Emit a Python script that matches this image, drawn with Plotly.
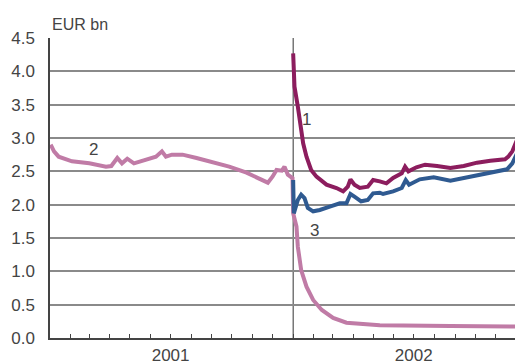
import plotly.graph_objects as go
import pandas as pd

# Series 2 (legacy currency), 2001 through 2002
s2_dates = ["2001-01-02", "2001-01-07", "2001-01-14", "2001-02-03", "2001-03-01", "2001-03-26",
            "2001-04-03", "2001-04-12", "2001-04-19", "2001-04-27", "2001-05-07", "2001-05-25",
            "2001-06-09", "2001-06-18", "2001-06-24", "2001-07-03", "2001-07-19", "2001-08-09",
            "2001-09-02", "2001-09-27", "2001-10-23", "2001-11-12", "2001-11-24", "2001-12-01",
            "2001-12-07", "2001-12-15", "2001-12-19", "2001-12-24", "2001-12-31",
            "2002-01-01", "2002-01-06", "2002-01-08", "2002-01-13", "2002-01-21", "2002-01-31",
            "2002-02-13", "2002-03-02", "2002-03-22", "2002-04-17", "2002-05-11", "2002-08-25",
            "2002-12-12"]
s2_values = [2.90, 2.80, 2.72, 2.65, 2.62, 2.57,
             2.58, 2.70, 2.62, 2.69, 2.62, 2.67,
             2.72, 2.80, 2.72, 2.75, 2.75, 2.70,
             2.64, 2.57, 2.48, 2.39, 2.33, 2.42,
             2.52, 2.51, 2.57, 2.45, 2.40,
             1.87, 1.67, 1.37, 1.02, 0.77, 0.57,
             0.42, 0.30, 0.23, 0.21, 0.19, 0.18,
             0.17]

# Series 1 (total), 2002
s1_dates = ["2002-01-01", "2002-01-02", "2002-01-03", "2002-01-08", "2002-01-12", "2002-01-16",
            "2002-01-21", "2002-01-28", "2002-02-05", "2002-02-20", "2002-03-07", "2002-03-17",
            "2002-03-24", "2002-03-28", "2002-04-03", "2002-04-11", "2002-04-23", "2002-05-01",
            "2002-05-11", "2002-05-21", "2002-05-31", "2002-06-13", "2002-06-18", "2002-06-23",
            "2002-07-05", "2002-07-18", "2002-08-05", "2002-08-25", "2002-09-14", "2002-10-04",
            "2002-10-24", "2002-11-15", "2002-11-20", "2002-11-26", "2002-12-03", "2002-12-12"]
s1_values = [4.27, 3.97, 3.77, 3.47, 3.17, 2.92,
             2.72, 2.52, 2.42, 2.30, 2.25, 2.20,
             2.27, 2.38, 2.30, 2.25, 2.27, 2.37,
             2.35, 2.32, 2.40, 2.47, 2.57, 2.50,
             2.56, 2.60, 2.58, 2.55, 2.58, 2.63,
             2.66, 2.68, 2.72, 2.80, 2.97, 3.08]

# Series 3 (euro), 2002
s3_dates = ["2002-01-01", "2002-01-02", "2002-01-08", "2002-01-13", "2002-01-18", "2002-01-23",
            "2002-01-31", "2002-02-10", "2002-02-25", "2002-03-12", "2002-03-22", "2002-03-28",
            "2002-04-03", "2002-04-13", "2002-04-23", "2002-05-01", "2002-05-11", "2002-05-16",
            "2002-05-31", "2002-06-13", "2002-06-19", "2002-06-24", "2002-07-10", "2002-07-31",
            "2002-08-25", "2002-09-14", "2002-10-04", "2002-10-24", "2002-11-18", "2002-11-26",
            "2002-12-03", "2002-12-12"]
s3_values = [2.37, 1.87, 2.07, 2.15, 2.10, 1.95,
             1.90, 1.92, 1.97, 2.02, 2.02, 2.16,
             2.12, 2.05, 2.07, 2.17, 2.18, 2.16,
             2.20, 2.25, 2.37, 2.30, 2.38, 2.41,
             2.36, 2.40, 2.45, 2.49, 2.53, 2.62,
             2.77, 2.90]

x_range = ["2001-01-01", "2002-12-12"]
month_ticks = [d.strftime("%Y-%m-%d") for d in pd.date_range("2001-01-01", "2002-12-01", freq="MS")]
tick_text = [("2001" if t == "2001-07-01" else "2002" if t == "2002-07-01" else "") for t in month_ticks]
y_ticks = [0, 0.5, 1, 1.5, 2, 2.5, 3, 3.5, 4, 4.5]

FONT = "Liberation Sans, Arial, sans-serif"

fig = go.Figure()
fig.add_trace(go.Scatter(x=s2_dates, y=s2_values, mode="lines",
                         line=dict(color="#C07BA6", width=4), showlegend=False))
fig.add_trace(go.Scatter(x=s3_dates, y=s3_values, mode="lines",
                         line=dict(color="#2F5A91", width=4), showlegend=False))
fig.add_trace(go.Scatter(x=s1_dates, y=s1_values, mode="lines",
                         line=dict(color="#8C1D5E", width=4), showlegend=False))

fig.add_shape(type="line", x0="2002-01-01", x1="2002-01-01", y0=0, y1=4.5,
              xref="x", yref="y", line=dict(color="#333333", width=1), layer="below")

lab_font = dict(family=FONT, size=17, color="#444444")
fig.add_annotation(x="2002-01-21", y=3.28, text="1", showarrow=False, font=lab_font)
fig.add_annotation(x="2001-03-08", y=2.83, text="2", showarrow=False, font=lab_font)
fig.add_annotation(x="2002-02-02", y=1.62, text="3", showarrow=False, font=lab_font)
fig.add_annotation(xref="paper", yref="paper", x=0, xanchor="left", y=1.0, yanchor="bottom",
                   yshift=3, text="EUR bn", showarrow=False,
                   font=dict(family=FONT, size=16, color="#444444"))

# The page body has an 8 px margin, so the figure is sized and offset to compensate.
fig.update_layout(
    width=515, height=355,
    margin=dict(l=42, r=0, t=30, b=25),
    plot_bgcolor="white", paper_bgcolor="white",
    font=dict(family=FONT, size=17, color="#444444"),
    xaxis=dict(type="date", range=x_range, tickvals=month_ticks, ticktext=tick_text,
               ticks="inside", ticklen=4, tickcolor="#444444", tickwidth=1,
               showgrid=False, showline=True, linecolor="#444444", linewidth=1.5,
               zeroline=False, tickangle=0, ticklabelstandoff=1, automargin=False),
    yaxis=dict(range=[0, 4.5], tickvals=y_ticks, tickformat=".1f",
               showgrid=True, gridcolor="#8a8a8a", gridwidth=1.5,
               showline=True, linecolor="#444444", linewidth=1.5,
               zeroline=False, ticks="", ticklabelstandoff=10, automargin=False),
)

fig.write_html("out.html")
